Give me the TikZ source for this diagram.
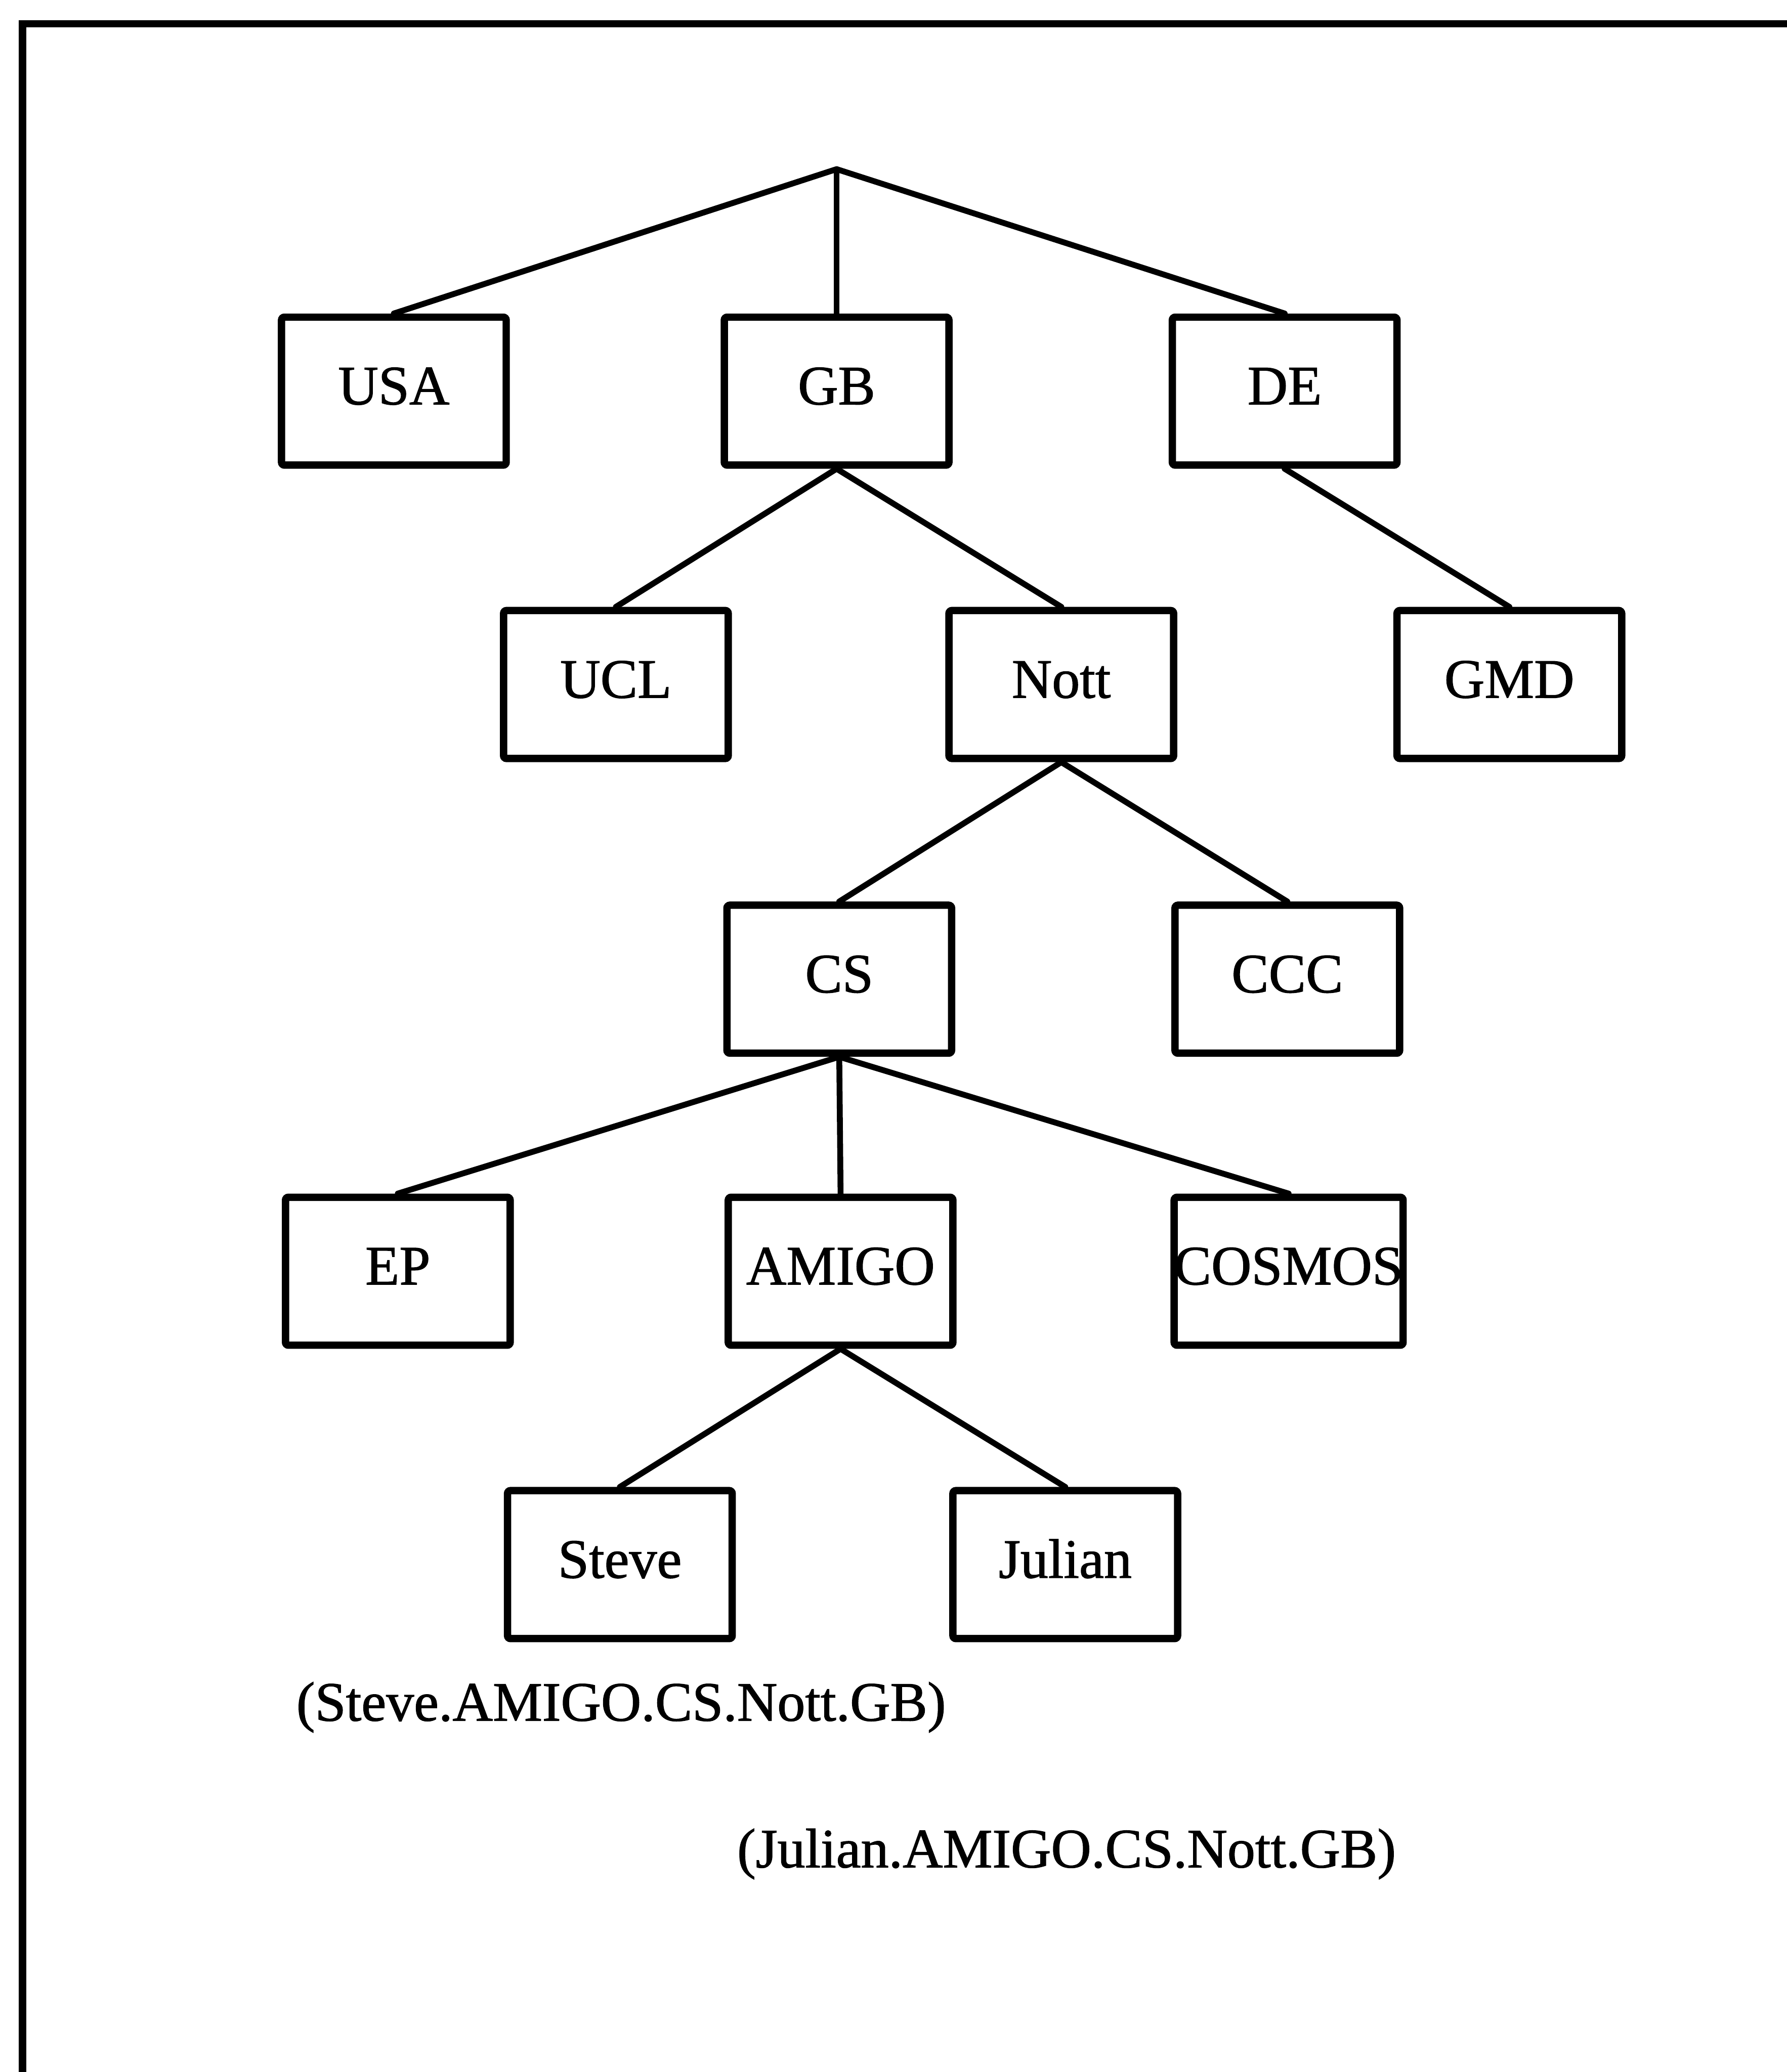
\documentclass[tikz,border=0pt]{standalone}
\usepackage{fontspec}
\setmainfont{Liberation Serif}
\newfontfamily\heavyserif[FakeBold=1.2]{Liberation Serif}
\begin{document}
\begin{tikzpicture}[x=0.03171cm, y=-0.03171cm,
  namebox/.style={draw, line width=5pt, rounded corners=2pt, inner sep=0pt,
    minimum width=5.39cm, minimum height=3.55cm,
    text height=0.95cm, text depth=0.316cm,
    font=\heavyserif\fontsize{38}{44}\selectfont},
  link/.style={line width=4pt, line cap=round, line join=round},
  addr/.style={inner sep=0pt, font=\heavyserif\fontsize{38}{44}\selectfont}]
  \useasboundingbox (0,0) rectangle (1352,1568);

  % open frame: left and top edges only
  \draw[line width=5pt] (17,1568) -- (17,18) -- (1352,18);

  % root of the naming tree
  \coordinate (root) at (633,128);

  % level 1: countries
  \node[namebox] (usa) at (298,296) {USA};
  \node[namebox] (gb)  at (633,296) {GB};
  \node[namebox] (de)  at (972,296) {DE};

  % level 2
  \node[namebox] (ucl)  at (466,518) {UCL};
  \node[namebox] (nott) at (803,518) {Nott};
  \node[namebox] (gmd)  at (1142,518) {GMD};

  % level 3
  \node[namebox] (cs)  at (635,741) {CS};
  \node[namebox] (ccc) at (974,741) {CCC};

  % level 4
  \node[namebox] (ep)     at (301,962) {EP};
  \node[namebox] (amigo)  at (636,962) {AMIGO};
  \node[namebox] (cosmos) at (975,962) {COSMOS};

  % level 5: users
  \node[namebox] (steve)  at (469,1184) {Steve};
  \node[namebox] (julian) at (806,1184) {Julian};

  % tree edges
  \draw[link] (usa.north) -- (root) -- (de.north);
  \draw[link] (root) -- (gb.north);
  \draw[link] (ucl.north) -- (gb.south) -- (nott.north);
  \draw[link] (de.south) -- (gmd.north);
  \draw[link] (cs.north) -- (nott.south) -- (ccc.north);
  \draw[link] (ep.north) -- (cs.south) -- (cosmos.north);
  \draw[link] (cs.south) -- (amigo.north);
  \draw[link] (steve.north) -- (amigo.south) -- (julian.north);

  % fully qualified names
  \node[addr] (steveaddr)  at (470,1292) {(Steve.AMIGO.CS.Nott.GB)};
  \node[addr] (julianaddr) at (807,1403) {(Julian.AMIGO.CS.Nott.GB)};
\end{tikzpicture}
\end{document}
